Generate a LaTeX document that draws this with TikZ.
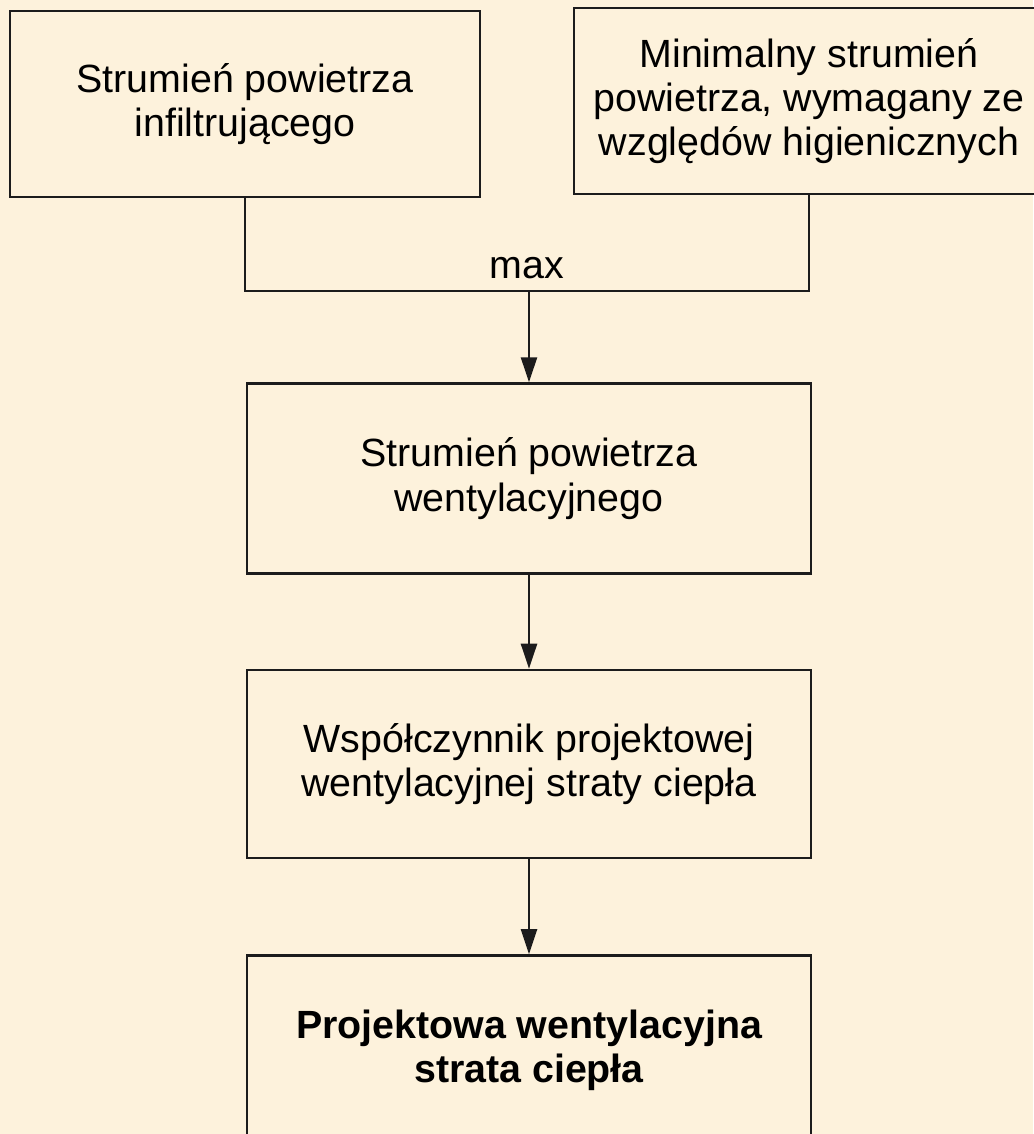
\documentclass[tikz,border=0pt]{standalone}
\usepackage{fontspec}
\setmainfont{Liberation Sans}
\usetikzlibrary{arrows.meta,positioning,calc}
\definecolor{paperc}{HTML}{FDF2DC}
\definecolor{linec}{HTML}{1C1C1C}
\tikzset{
  >={Triangle[length=2.5mm,width=1.6mm]},
  box/.style={draw=linec,line width=0.7pt,fill=paperc,align=center,inner sep=2pt,font=\fontsize{11.2}{12.6}\selectfont},
  srcbox/.style={box,minimum width=47mm,minimum height=18.6mm},
  flowbox/.style={box,minimum width=56.4mm,minimum height=19mm},
  link/.style={->,line width=0.7pt,draw=linec},
  joint/.style={line width=0.7pt,draw=linec},
  lbl/.style={font=\fontsize{11.2}{12.6}\selectfont,anchor=base,inner sep=0pt},
}
\begin{document}
\begin{tikzpicture}
  \useasboundingbox (0,0) rectangle (10.33,-11.34);
  \fill[paperc] (0,0) rectangle (10.33,-11.34);
  % sources
  \node[srcbox] (infl) at (2.45,-1.04) {Strumień powietrza\\infiltrującego};
  \node[srcbox] (hyg) at (8.09,-1.01) {Minimalny strumień\\powietrza, wymagany ze\\względów higienicznych};
  % main column
  \node[flowbox] (vent) at (5.29,-4.785) {Strumień powietrza\\wentylacyjnego};
  \node[flowbox,below=9.4mm of vent,minimum height=18.8mm] (coef) {Współczynnik projektowej\\wentylacyjnej straty ciepła};
  \node[flowbox,below=9.5mm of coef,font=\fontsize{11.2}{12.6}\selectfont\bfseries] (loss) {Projektowa wentylacyjna\\strata ciepła};
  % max joint
  \coordinate (barL) at ($(infl.south)+(0,-0.93)$);
  \coordinate (barR) at (barL -| hyg.south);
  \draw[joint] (infl.south) -- (barL) -- (barR) -- (hyg.south);
  \node[lbl] (maxl) at ($(barL)!0.5!(barR)+(0,0.13)$) {max};
  \draw[link] (vent.north |- barL) -- (vent.north);
  \draw[link] (vent) -- (coef);
  \draw[link] (coef) -- (loss);
\end{tikzpicture}
\end{document}
